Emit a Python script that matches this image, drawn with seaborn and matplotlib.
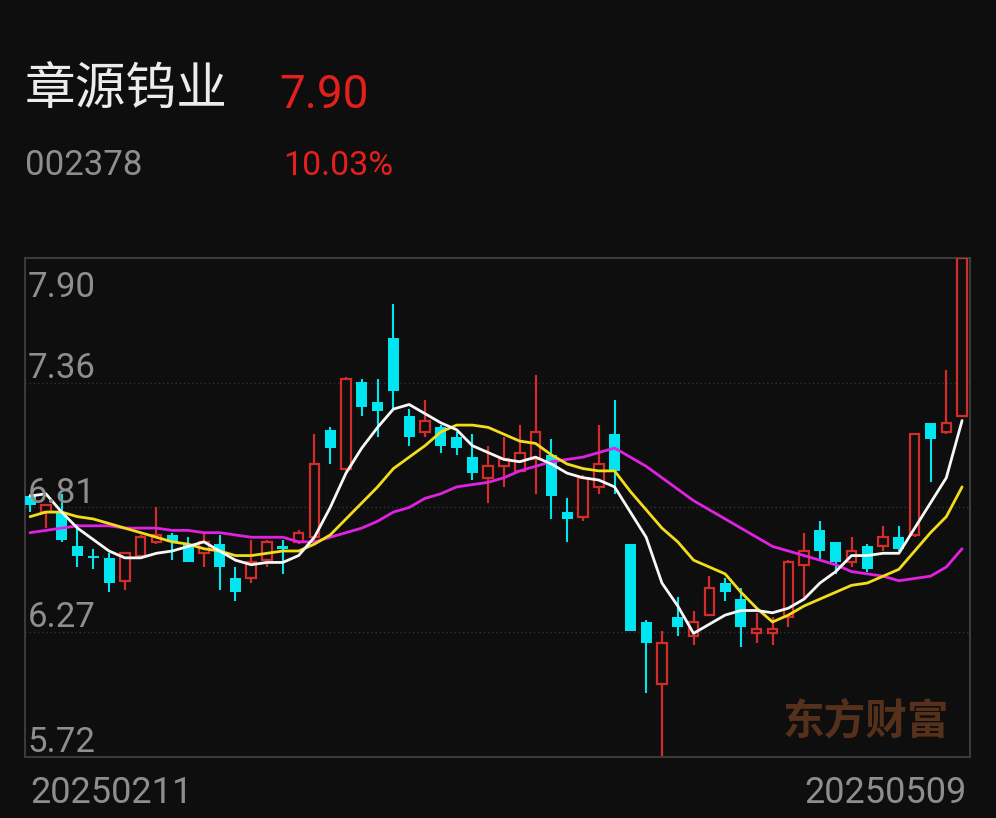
import matplotlib
matplotlib.use("Agg")
import matplotlib.pyplot as plt
import numpy as np
import pandas as pd
import seaborn as sns

# 章源钨业 日K 数据
opens = [6.86, 6.79, 6.79, 6.64, 6.60, 6.59, 6.49, 6.60, 6.66, 6.69,
         6.65, 6.61, 6.65, 6.50, 6.50, 6.58, 6.64, 6.66, 6.68, 7.15,
         6.98, 7.36, 7.27, 7.55, 7.21, 7.14, 7.16, 7.12, 7.03, 6.94,
         6.99, 6.97, 7.02, 7.04, 6.79, 6.77, 6.90, 7.13, 6.65, 6.31,
         6.04, 6.33, 6.25, 6.34, 6.48, 6.41, 6.26, 6.26, 6.33, 6.56,
         6.71, 6.66, 6.57, 6.64, 6.64, 6.68, 6.69, 7.18, 7.14, 7.21]
highs = [6.87, 6.82, 6.87, 6.74, 6.63, 6.61, 6.61, 6.69, 6.81, 6.70,
         6.68, 6.70, 6.69, 6.55, 6.67, 6.67, 6.67, 6.71, 7.13, 7.16,
         7.38, 7.37, 7.37, 7.70, 7.24, 7.28, 7.17, 7.14, 7.13, 7.08,
         7.12, 7.17, 7.39, 7.11, 6.85, 6.95, 7.17, 7.28, 6.65, 6.32,
         6.27, 6.42, 6.36, 6.51, 6.50, 6.46, 6.35, 6.33, 6.58, 6.70,
         6.75, 6.66, 6.68, 6.65, 6.73, 6.73, 7.13, 7.18, 7.41, 7.90]
lows = [6.79, 6.72, 6.66, 6.55, 6.54, 6.44, 6.45, 6.60, 6.65, 6.58,
        6.57, 6.55, 6.45, 6.40, 6.48, 6.55, 6.52, 6.65, 6.67, 7.00,
        6.97, 7.21, 7.12, 7.24, 7.08, 7.12, 7.05, 7.04, 6.93, 6.83,
        6.90, 6.97, 6.87, 6.76, 6.66, 6.75, 6.87, 6.87, 6.27, 6.00,
        5.72, 6.25, 6.21, 6.34, 6.40, 6.20, 6.22, 6.21, 6.29, 6.41,
        6.58, 6.52, 6.55, 6.53, 6.62, 6.62, 6.68, 6.92, 7.13, 7.21]
closes = [6.82, 6.82, 6.67, 6.60, 6.59, 6.48, 6.61, 6.68, 6.69, 6.66,
          6.57, 6.66, 6.55, 6.44, 6.57, 6.66, 6.63, 6.70, 7.00, 7.07,
          7.37, 7.25, 7.23, 7.32, 7.12, 7.19, 7.08, 7.07, 6.96, 6.99,
          7.02, 7.05, 7.14, 6.86, 6.76, 6.94, 7.00, 6.97, 6.27, 6.22,
          6.22, 6.29, 6.31, 6.46, 6.44, 6.29, 6.28, 6.28, 6.57, 6.62,
          6.62, 6.57, 6.62, 6.54, 6.68, 6.63, 7.13, 7.11, 7.18, 7.90]

# 均线 MA5 / MA10 / MA20
ma5 = [6.86, 6.87, 6.79, 6.72, 6.67, 6.62, 6.59, 6.59, 6.61, 6.62,
       6.64, 6.66, 6.62, 6.58, 6.56, 6.57, 6.57, 6.60, 6.68, 6.81,
       6.96, 7.07, 7.16, 7.24, 7.26, 7.22, 7.18, 7.15, 7.08, 7.05,
       7.02, 7.01, 7.03, 7.00, 6.96, 6.94, 6.93, 6.90, 6.79, 6.68,
       6.48, 6.38, 6.26, 6.30, 6.34, 6.36, 6.36, 6.35, 6.37, 6.41,
       6.48, 6.53, 6.60, 6.60, 6.61, 6.61, 6.72, 6.83, 6.94, 7.19]
ma10 = [6.77, 6.79, 6.79, 6.77, 6.76, 6.74, 6.72, 6.70, 6.68, 6.66,
        6.65, 6.63, 6.62, 6.60, 6.60, 6.61, 6.62, 6.62, 6.65, 6.69,
        6.76, 6.83, 6.90, 6.98, 7.03, 7.08, 7.14, 7.17, 7.17, 7.16,
        7.13, 7.10, 7.09, 7.04, 7.00, 6.98, 6.97, 6.97, 6.88, 6.80,
        6.72, 6.66, 6.58, 6.55, 6.52, 6.44, 6.37, 6.31, 6.34, 6.38,
        6.41, 6.44, 6.47, 6.48, 6.51, 6.54, 6.62, 6.70, 6.77, 6.90]
ma20 = [6.70, 6.71, 6.72, 6.73, 6.73, 6.73, 6.72, 6.72, 6.72, 6.71,
        6.71, 6.70, 6.70, 6.69, 6.68, 6.68, 6.68, 6.66, 6.66, 6.68,
        6.70, 6.72, 6.75, 6.79, 6.81, 6.85, 6.87, 6.90, 6.91, 6.92,
        6.94, 6.97, 6.99, 7.01, 7.02, 7.03, 7.05, 7.07, 7.03, 6.99,
        6.94, 6.89, 6.84, 6.80, 6.76, 6.72, 6.68, 6.64, 6.62, 6.60,
        6.58, 6.56, 6.53, 6.52, 6.51, 6.49, 6.50, 6.51, 6.55, 6.63]

y_ticks = [5.72, 6.265, 6.81, 7.355, 7.90]
y_tick_labels = ["5.72", "6.27", "6.81", "7.36", "7.90"]
date_labels = ["20250211", "20250509"]
stock_name = "章源钨业"
stock_code = "002378"
last_price = "7.90"
pct_change = "10.03%"

bg = "#0e0e0e"
red = "#d32d2b"
cyan = "#00e6f0"

sns.set_theme(style="dark", rc={"axes.facecolor": bg, "figure.facecolor": bg})
plt.rcParams["font.family"] = ["Roboto", "Noto Sans CJK SC", "DejaVu Sans"]

df = pd.DataFrame({"open": opens, "high": highs, "low": lows, "close": closes,
                   "ma5": ma5, "ma10": ma10, "ma20": ma20})
df["idx"] = np.arange(len(df))
df["up"] = df["close"] >= df["open"]

fig = plt.figure(figsize=(9.96, 8.18), dpi=100)
ax = fig.add_axes([25 / 996, 61 / 818, 945 / 996, 499 / 818])
ax.set_facecolor(bg)

# 网格虚线
for v in y_ticks[1:-1]:
    ax.axhline(v, color="#333333", lw=1, ls=(0, (1, 2)), zorder=0)

# 阴线：实心青色
dn = df[~df["up"]]
ax.vlines(dn["idx"], dn["low"], dn["high"], color=cyan, lw=1.5, zorder=2)
ax.bar(dn["idx"], np.maximum(dn["open"] - dn["close"], 0.006), bottom=dn["close"],
       width=0.7, color=cyan, lw=0, zorder=3)

# 阳线：空心红色
upd = df[df["up"]]
top = upd[["open", "close"]].max(axis=1)
bot = upd[["open", "close"]].min(axis=1)
ax.vlines(upd["idx"], top, upd["high"], color=red, lw=1.6, zorder=2)
ax.vlines(upd["idx"], upd["low"], bot, color=red, lw=1.6, zorder=2)
ax.bar(upd["idx"], np.maximum(upd["close"] - upd["open"], 0.006), bottom=upd["open"],
       width=0.6, facecolor=bg, edgecolor=red, lw=1.6, zorder=3)

# 均线
sns.lineplot(data=df, x="idx", y="ma20", color="#e022e0", lw=2.0, ax=ax, zorder=4)
sns.lineplot(data=df, x="idx", y="ma10", color="#f2dc1c", lw=2.0, ax=ax, zorder=4)
sns.lineplot(data=df, x="idx", y="ma5", color="#f7f7f7", lw=2.0, ax=ax, zorder=5)

ax.set_xlim(-0.32, len(df) - 0.5)
ax.set_ylim(y_ticks[0], y_ticks[-1])
ax.set_xticks([])
ax.set_yticks([])
ax.set_xlabel("")
ax.set_ylabel("")
ax.grid(False)
for s in ax.spines.values():
    s.set_visible(True)
    s.set_color("#3a3a3a")
    s.set_linewidth(1.5)

# 坐标标签画在图内
for v, lab in zip(y_ticks, y_tick_labels):
    dy = -28 if lab == y_tick_labels[-1] else 3.5
    ax.annotate(lab, xy=(0.003, v), xycoords=("axes fraction", "data"),
                xytext=(0, dy), textcoords="offset points", va="baseline",
                ha="left", fontsize=25, color="#8e8e8e", zorder=6)

fig.text(30 / 996, 1 - 803 / 818, date_labels[0], fontsize=26, color="#8e8e8e",
         va="baseline", ha="left")
fig.text(967 / 996, 1 - 803 / 818, date_labels[1], fontsize=26, color="#8e8e8e",
         va="baseline", ha="right")

# 顶部标题
fig.text(25 / 996, 1 - 91 / 818, stock_name, fontsize=36.5, color="#ececec",
         family=["Noto Sans CJK SC"], va="center", ha="left")
fig.text(279 / 996, 1 - 108 / 818, last_price, fontsize=33, color="#e3201c",
         va="baseline", ha="left")
fig.text(25 / 996, 1 - 175 / 818, stock_code, fontsize=25, color="#8e8e8e",
         va="baseline", ha="left")
fig.text(283 / 996, 1 - 175 / 818, pct_change, fontsize=24.5, color="#e3201c",
         va="baseline", ha="left")

# 水印
fig.text(783 / 996, 1 - 721 / 818, "东方财富", fontsize=30, color="#55301a",
         family=["Noto Sans CJK SC"], weight="bold", va="center", ha="left")

fig.savefig("out.png", dpi=100, facecolor=bg)
